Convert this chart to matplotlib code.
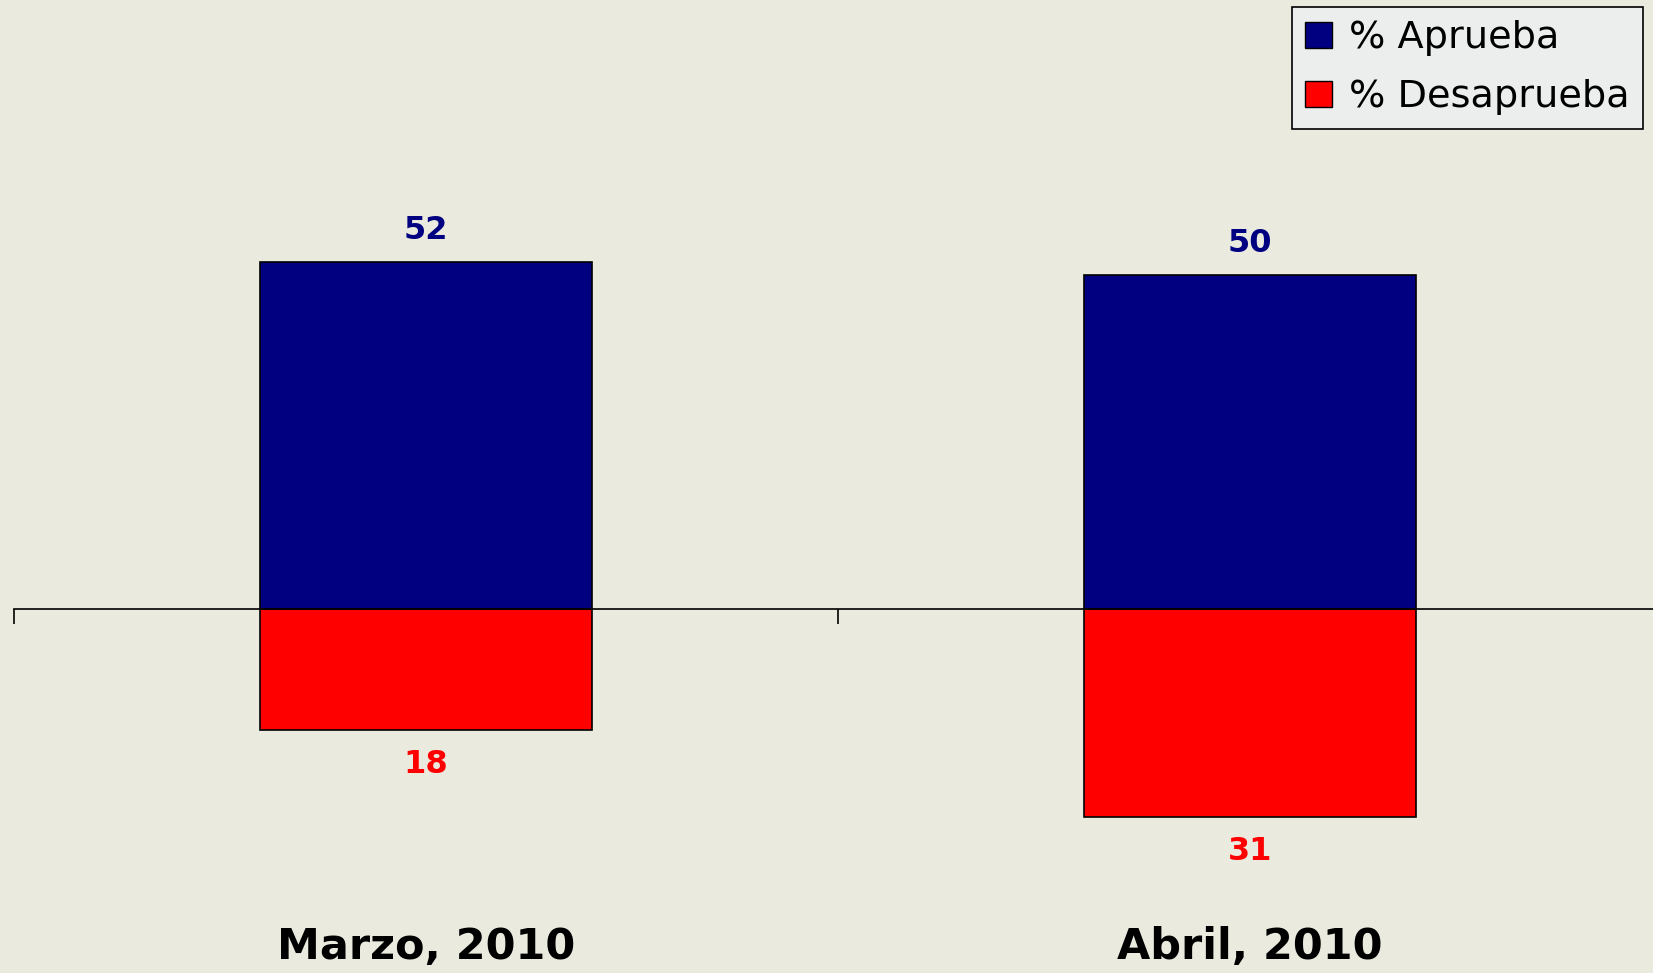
import matplotlib.pyplot as plt
from matplotlib.patches import Patch

categories = ["Marzo, 2010", "Abril, 2010"]
aprueba = [52, 50]
desaprueba = [18, 31]

bg = "#eaeadf"
blue = "#000080"
red = "#ff0000"

fig = plt.figure(figsize=(16.53, 9.73), dpi=100, facecolor=bg)
ax = fig.add_axes([14 / 1653, 0, 1648 / 1653, 1])
ax.set_facecolor(bg)

x = list(range(len(categories)))
ax.bar(x, aprueba, width=0.404, color=blue, edgecolor="black", linewidth=1.2)
ax.bar(x, [-d for d in desaprueba], width=0.404, color=red, edgecolor="black", linewidth=1.2)

for xi, a, d in zip(x, aprueba, desaprueba):
    ax.annotate(str(a), (xi, a), xytext=(0, 23), textcoords="offset points",
                ha="center", va="center", color=blue, fontsize=23, fontweight="bold")
    ax.annotate(str(d), (xi, -d), xytext=(0, -25), textcoords="offset points",
                ha="center", va="center", color=red, fontsize=23, fontweight="bold")
    ax.text(xi, 26 / 973, categories[xi], transform=ax.get_xaxis_transform(),
            ha="center", va="center", fontsize=31, fontweight="bold")

ax.set_xlim(-0.5, 1.5)
ax.set_ylim(-54.4, 91.2)

for s in ["top", "right", "left"]:
    ax.spines[s].set_visible(False)
ax.spines["bottom"].set_position(("data", 0))
ax.spines["bottom"].set_linewidth(1.2)
ax.set_xticks([-0.5, 0.5, 1.5])
ax.set_xticklabels([])
ax.tick_params(axis="x", direction="out", length=11, width=1.2)
ax.set_yticks([])

handles = [Patch(facecolor=blue, edgecolor="black", label="% Aprueba"),
           Patch(facecolor=red, edgecolor="black", label="% Desaprueba")]
leg = fig.legend(handles=handles, loc="upper right",
                 bbox_to_anchor=(1643 / 1653, 1 - 7 / 973), borderaxespad=0,
                 fontsize=27.5, frameon=True, fancybox=False, framealpha=1,
                 handlelength=0.7, handleheight=0.7, handletextpad=0.45,
                 borderpad=0.35, labelspacing=0.6)
leg.get_frame().set_facecolor("#eceeee")
leg.get_frame().set_edgecolor("black")
leg.get_frame().set_linewidth(1.2)

fig.savefig("out.png", dpi=100, facecolor=bg)
